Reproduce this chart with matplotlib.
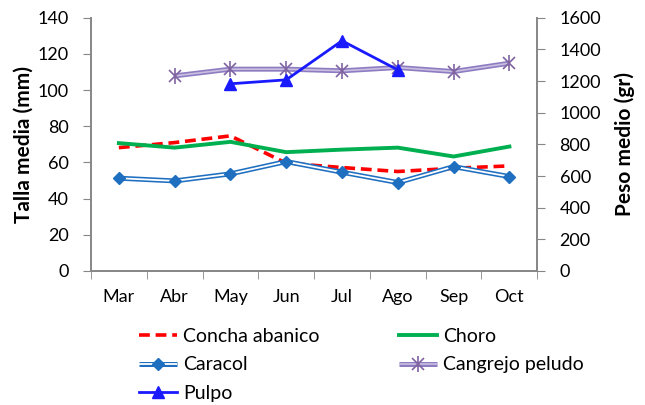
import numpy as np
import matplotlib
matplotlib.use('Agg')
import matplotlib.pyplot as plt
from matplotlib.legend_handler import HandlerTuple

plt.rcParams['font.family'] = ['Lato', 'DejaVu Sans']

meses = ['Mar', 'Abr', 'May', 'Jun', 'Jul', 'Ago', 'Sep', 'Oct']
concha = [68.2, 71.0, 74.7, 59.6, 57.2, 55.0, 56.8, 58.1]
choro = [70.7, 68.2, 71.4, 65.7, 67.1, 68.2, 63.3, 68.8]
caracol = [51.3, 49.8, 53.7, 60.5, 54.6, 48.9, 57.7, 52.2]
cangrejo = [np.nan, 107.9, 111.6, 111.6, 110.7, 112.5, 110.3, 114.9]
pulpo = [np.nan, np.nan, 1183, 1208, 1455, 1271, np.nan, np.nan]

x = np.arange(len(meses))
gris = '#868686'

fig = plt.figure(figsize=(6.45, 4.05), dpi=100)
ax = fig.add_axes([0.141, 0.331, 0.692, 0.625])
ax2 = ax.twinx()

h_concha, = ax.plot(x, concha, color='#ff0000', lw=2.6, ls=(0, (3, 1.6)))
h_choro, = ax.plot(x, choro, color='#00b050', lw=2.8)

# doble linea tipo Excel
c1, = ax.plot(x, caracol, color='#1f6fc0', lw=3.6, solid_capstyle='butt')
c2, = ax.plot(x, caracol, color='white', lw=1.3, solid_capstyle='butt')
c3, = ax.plot(x, caracol, ls='none', marker='D', ms=6.5, color='#1f6fc0')

g1, = ax.plot(x, cangrejo, color='#8e7cc3', lw=3.6, solid_capstyle='butt')
g2, = ax.plot(x, cangrejo, color='#cbbfe0', lw=1.2, solid_capstyle='butt')
g3, = ax.plot(x, cangrejo, ls='none', marker='x', ms=8, mew=1.2, color='#8064a2')
g4, = ax.plot(x, cangrejo, ls='none', marker='|', ms=11, mew=1.2, color='#8064a2')

h_pulpo, = ax2.plot(x, pulpo, color='#1a1aff', lw=2, marker='^', ms=8)

ax.set_xlim(-0.5, 7.5)
ax.set_ylim(0, 140)
ax2.set_ylim(0, 1600)
ax.set_yticks(np.arange(0, 141, 20))
ax2.set_yticks(np.arange(0, 1601, 200))
ax.set_xticks(x)
ax.set_xticklabels(meses)
ax.set_xticks(np.arange(-0.5, 8, 1), minor=True)
ax.tick_params(axis='x', which='major', length=0, pad=13, labelsize=13)
ax.tick_params(axis='x', which='minor', length=6, color=gris, direction='out')
ax.tick_params(axis='y', length=6, color=gris, labelsize=13, pad=10)
ax2.tick_params(axis='y', length=6, color=gris, labelsize=13, pad=10)

for a in (ax, ax2):
    a.spines['top'].set_visible(False)
    for s in ('left', 'right', 'bottom'):
        a.spines[s].set_color(gris)
        a.spines[s].set_linewidth(1.2)

ax.set_ylabel('Talla media (mm)', fontsize=15, fontweight='bold')
ax2.set_ylabel('Peso medio (gr)', fontsize=15, fontweight='bold')
ax.yaxis.set_label_coords(-0.128, 0.5)
ax2.yaxis.set_label_coords(1.172, 0.5)

handles = [h_concha, (c1, c2, c3), h_pulpo, h_choro, (g1, g2, g3, g4)]
labels = ['Concha abanico', 'Caracol', 'Pulpo', 'Choro', 'Cangrejo peludo']
fig.legend(handles, labels, ncol=2, loc='upper left', bbox_to_anchor=(0.204, 0.21),
           frameon=False, fontsize=14, handlelength=1.95, handletextpad=0.3,
           columnspacing=4.1, labelspacing=0.6, borderaxespad=0,
           handler_map={tuple: HandlerTuple(ndivide=1, pad=0)})

fig.savefig('out.png', dpi=100)
